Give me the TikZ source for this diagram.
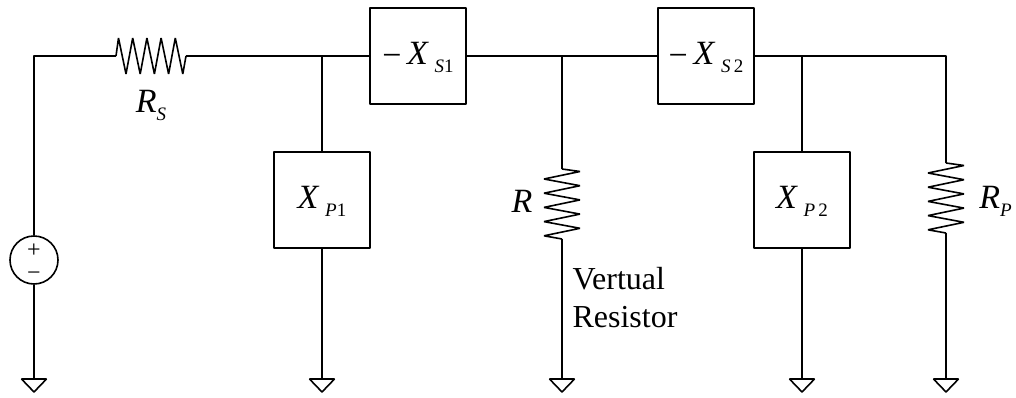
\documentclass[tikz,border=0pt]{standalone}
\usepackage{fontspec}
\setmainfont{Liberation Serif}
\usetikzlibrary{positioning}
\newcommand{\subtxt}[1]{\raisebox{-8pt}{\fontsize{19}{19}\selectfont #1}}
\tikzset{
wire/.style = {line width = 1.6 pt, line join = bevel},
box/.style = {draw, wire, minimum size = 96 pt, inner sep = 0 pt, text height = 22 pt, text depth = 5 pt, font = \fontsize{34}{38}\selectfont},
lab/.style = {inner sep = 0 pt, text height = 22 pt, text depth = 5 pt, font = \fontsize{34}{38}\selectfont},
src/.style = {draw, wire, circle, minimum size = 48 pt, inner sep = 0 pt},
sign/.style = {inner sep = 0 pt, font = \fontsize{24}{24}\selectfont},
note/.style = {inner sep = 0 pt, align = left, font = \fontsize{32}{38}\selectfont},
gnd/.pic = {\draw [wire] (-12.5,0) -- (12.5,0) -- (0,-13) -- cycle;},
resistor/.pic = {\draw [wire] (0,0) -- (2.5,18) -- (10,-18) -- (16.7,18) -- (24.2,-18) -- (30.9,18) -- (38.4,-18) -- (45.1,18) -- (52.6,-18) -- (59.3,18) -- (66.8,-18) -- (70,0);}
}
\begin{document}
\begin{tikzpicture}[x = 1 pt, y = 1 pt, on grid]
\useasboundingbox (0,0) rectangle (1016,397);
\node [src] (v_s) at (34,137) {};
\node [sign] (v_p) [above = 9 pt of v_s, anchor = center] {+};
\node [sign] (v_m) [below = 16 pt of v_s, anchor = center] {−};
\coordinate [above = 204 pt of v_s] (c_0);
\coordinate [below = 119 pt of v_s] (g_0);
\coordinate [right = 82 pt of c_0] (rs_in);
\coordinate [right = 70 pt of rs_in] (rs_out);
\coordinate [right = 35 pt of rs_in] (rs_mid);
\node [lab] (l_rs) [below = 48.5 pt of rs_mid, anchor = center] {\textit{R}\subtxt{\textit{S}}};
\node [box] (x_s1) [right = 384 pt of c_0, anchor = center] {\raisebox{-2pt}{−}\,\textit{X}\,\subtxt{\textit{S}1}};
\coordinate [left = 96 pt of x_s1] (j_1);
\node [box] (x_p1) [below = 144 pt of j_1, anchor = center] {\textit{X}\,\subtxt{\textit{P}1}};
\coordinate [below = 179 pt of x_p1] (g_1);
\coordinate [right = 144 pt of x_s1] (j_2);
\node [box] (x_s2) [right = 144 pt of j_2, anchor = center] {\raisebox{-2pt}{−}\,\textit{X}\,\subtxt{\textit{S}\,2}};
\coordinate [below = 113 pt of j_2] (r_in);
\coordinate [below = 70 pt of r_in] (r_out);
\coordinate [below = 35 pt of r_in] (r_mid);
\coordinate [below = 323 pt of j_2] (g_2);
\node [lab] (l_r) [left = 40 pt of r_mid, anchor = center] {\textit{R}};
\node [note] (l_v) [below right = 94 pt and 63 pt of r_mid, anchor = center] {Vertual\\Resistor};
\coordinate [right = 96 pt of x_s2] (j_3);
\node [box] (x_p2) [below = 144 pt of j_3, anchor = center] {\textit{X}\,\subtxt{\textit{P}\,2}};
\coordinate [below = 179 pt of x_p2] (g_3);
\coordinate [right = 144 pt of j_3] (c_1);
\coordinate [below = 107 pt of c_1] (rp_in);
\coordinate [below = 70 pt of rp_in] (rp_out);
\coordinate [below = 35 pt of rp_in] (rp_mid);
\coordinate [below = 323 pt of c_1] (g_4);
\node [lab] (l_rp) [right = 49.5 pt of rp_mid, yshift = -2 pt, anchor = center] {\textit{R}\subtxt{\textit{P}}};
\draw [wire] (g_0) -- (v_s) -- (c_0) -- (rs_in);
\draw [wire] (rs_out) -- (x_s1);
\draw [wire] (x_s1) -- (x_s2);
\draw [wire] (x_s2) -- (c_1) -- (rp_in);
\draw [wire] (rp_out) -- (g_4);
\draw [wire] (j_1) -- (x_p1) -- (g_1);
\draw [wire] (j_2) -- (r_in);
\draw [wire] (r_out) -- (g_2);
\draw [wire] (j_3) -- (x_p2) -- (g_3);
\pic at (rs_in) {resistor};
\pic [rotate = -90] at (r_in) {resistor};
\pic [rotate = -90] at (rp_in) {resistor};
\foreach \g in {g_0, g_1, g_2, g_3, g_4}
\pic at (\g) {gnd};
\end{tikzpicture}
\end{document}
